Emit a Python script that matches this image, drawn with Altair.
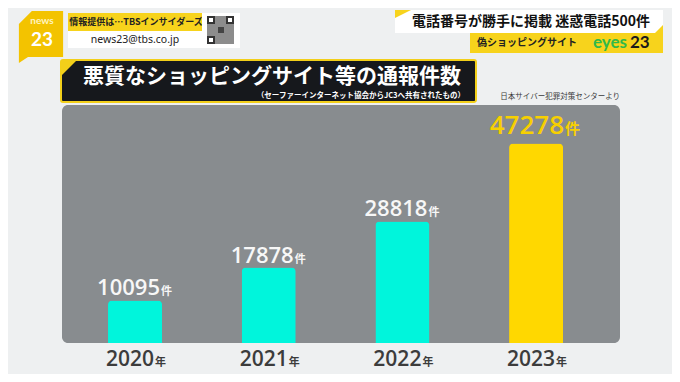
import altair as alt
import pandas as pd

# ---- data ----
years = ["2020", "2021", "2022", "2023"]
counts = [10095, 17878, 28818, 47278]
groups = ["n", "n", "n", "h"]

title_text = "悪質なショッピングサイト等の通報件数"
subtitle_text = "（セーファーインターネット協会からJC3へ共有されたもの）"
source_text = "日本サイバー犯罪対策センターより"
headline_text = "電話番号が勝手に掲載 迷惑電話500件"
topic_text = "偽ショッピングサイト"
info_text = "情報提供は…TBSインサイダーズ"
mail_text = "news23@tbs.co.jp"

df = pd.DataFrame({"year": years, "count": counts, "grp": groups})

# plot area position on the page
OX, OY = 62, 105
W, H = 558, 238

JP = "Noto Sans CJK JP"
NUM = "Open Sans"
YELLOW = "#f7d31c"

one = alt.Data(values=[{}])


def rect(x1, y1, x2, y2, **kw):
    return alt.Chart(one).mark_rect(**kw).encode(
        x=alt.value(x1 - OX), x2=alt.value(x2 - OX),
        y=alt.value(y1 - OY), y2=alt.value(y2 - OY))


def label(txt, x, y, **kw):
    kw.setdefault("baseline", "middle")
    return alt.Chart(one).mark_text(text=txt, **kw).encode(
        x=alt.value(x - OX), y=alt.value(y - OY))


def poly(path, cx, cy, half, color):
    return alt.Chart(one).mark_point(
        shape=path, filled=True, size=(2 * half) ** 2, color=color,
        opacity=1, strokeWidth=0).encode(
        x=alt.value(cx - OX), y=alt.value(cy - OY))


xenc = alt.X("year:N", axis=None,
             scale=alt.Scale(paddingInner=0.596, paddingOuter=0.385, align=0.447))
yenc = alt.Y("count:Q", axis=None, scale=alt.Scale(domain=[0, 56400], nice=False))

base = alt.Chart(df)

bars = base.mark_bar(cornerRadiusTopLeft=4, cornerRadiusTopRight=4).encode(
    x=xenc, y=yenc,
    color=alt.Color("grp:N", scale=alt.Scale(domain=["n", "h"], range=["#00f5dc", "#ffd800"]),
                    legend=None))

n = base.transform_filter(alt.datum.grp == "n")
h = base.transform_filter(alt.datum.grp == "h")

num_n = n.mark_text(align="right", baseline="alphabetic", dx=25, dy=-5, fontSize=22,
                    font=NUM, fontWeight=600, color="#f7f7f7").encode(
    x=xenc, y=yenc, text=alt.Text("count:Q", format="d"))
ken_n = n.mark_text(text="件", align="left", baseline="alphabetic", dx=26, dy=-5,
                    fontSize=11, font=JP, fontWeight="bold", color="#f7f7f7").encode(x=xenc, y=yenc)
num_h = h.mark_text(align="right", baseline="alphabetic", dx=28, dy=-9, fontSize=26,
                    font=NUM, fontWeight=600, color="#f7d000").encode(
    x=xenc, y=yenc, text=alt.Text("count:Q", format="d"))
ken_h = h.mark_text(text="件", align="left", baseline="alphabetic", dx=29, dy=-9,
                    fontSize=15, font=JP, fontWeight="bold", color="#f7d000").encode(x=xenc, y=yenc)

yr_num = base.mark_text(align="right", baseline="alphabetic", dx=19, fontSize=21,
                        font=NUM, fontWeight=600, color="#3c3c3c").encode(
    x=xenc, y=alt.value(366 - OY), text="year:N")
yr_nen = base.mark_text(text="年", align="left", baseline="alphabetic", dx=20, fontSize=11,
                        font=JP, fontWeight="bold", color="#3c3c3c").encode(
    x=xenc, y=alt.value(366 - OY))

deco = [
    # chart panel
    rect(62, 105, 620, 343, fill="#888c8f", cornerRadius=6),
    # news23 logo
    poly("M -0.35 -1 L 0.85 -1 L 0.85 0.77 L -0.5 0.77 L -0.85 1 L -0.85 -0.5 Z", 41, 37, 26, "#f3c300"),
    label("news", 42, 21, fontSize=10, font="Lato", fontWeight="bold", color="#fff4c0", align="center"),
    label("23", 42, 40, fontSize=19, font="Lato", fontWeight="bold", color="white", align="center"),
    # info strip
    rect(68, 13, 202, 31, fill=YELLOW),
    label(info_text, 136, 22, fontSize=9, font=JP, fontWeight="bold", color="#222", align="center"),
    rect(68, 31, 202, 48, fill="white"),
    label(mail_text, 135, 40, fontSize=10.5, font="Noto Sans", color="#222", align="center"),
    # QR code
    rect(202, 13, 240, 48, fill="white"),
    rect(207, 16, 234, 44, fill="#8c8c8c"),
    rect(207, 16, 215, 24, fill="#333"),
    rect(209, 18, 213, 22, fill="white"),
    rect(226, 16, 234, 24, fill="#333"),
    rect(228, 18, 232, 22, fill="white"),
    rect(207, 36, 215, 44, fill="#333"),
    rect(209, 38, 213, 42, fill="white"),
    rect(218, 27, 224, 33, fill="#444"),
    # headline boxes (top right)
    rect(395, 10, 663, 33, fill="white"),
    poly("M -1 -1 L 1 -1 L -1 0 Z", 403, 18, 8, YELLOW),
    label(headline_text, 531, 22, fontSize=14, font=JP, fontWeight="bold", color="#111", align="center"),
    rect(470, 33, 663, 53, fill=YELLOW),
    poly("M 1 -1 L 1 1 L -1 1 Z", 659, 29, 4, YELLOW),
    label(topic_text, 527, 43, fontSize=10, font=JP, fontWeight="bold", color="#222", align="center"),
    label("eyes", 593, 48, fontSize=17, font="Lato", fontWeight="bold", color="#30b94a",
          align="left", baseline="alphabetic"),
    label("23", 630, 48, fontSize=17, font="Lato", fontWeight="bold", color="#1a1a1a",
          align="left", baseline="alphabetic"),
    # title box
    rect(61, 60, 476, 102, fill="#16181c", stroke="#f2cf1a", strokeWidth=2, cornerRadius=2),
    poly("M -1 -1 L 1 -1 L -1 1 Z", 69, 68, 8, "#f2cf1a"),
    label(title_text, 272, 77, fontSize=21, font=JP, fontWeight="bold", color="white", align="center"),
    label(subtitle_text, 465, 95.5, fontSize=7.5, font=JP, fontWeight="bold", color="white", align="right"),
    label(source_text, 620, 97, fontSize=7.5, font=JP, color="#3a3a3a", align="right"),
]

chart = alt.layer(
    *deco, bars, num_n, ken_n, num_h, ken_h, yr_num, yr_nen
).properties(
    width=W, height=H,
    padding={"left": 54, "top": 97, "right": 52, "bottom": 31},
    autosize=alt.AutoSizeParams(type="none"),
).configure(
    background="#eef0f1"
).configure_view(
    stroke="transparent", strokeWidth=0
)

chart.save("out.html", embed_options={"renderer": "svg", "actions": False})
